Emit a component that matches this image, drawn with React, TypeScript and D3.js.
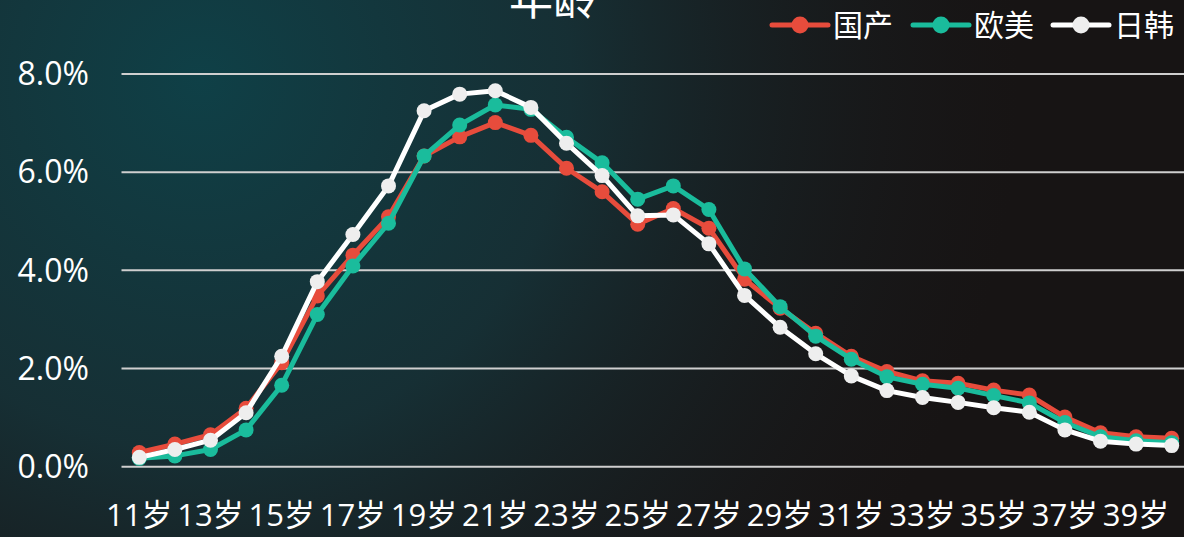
import React, { useEffect, useRef } from 'react';
import * as d3 from 'd3';

// ages 11..40 (every other label shown)
const ages = d3.range(11, 41).map(a => `${a}岁`);

const domestic = [0.29, 0.46, 0.65, 1.19, 2.12, 3.48, 4.31, 5.09, 6.33, 6.72, 7.01, 6.75, 6.08, 5.6, 4.94, 5.26, 4.86, 3.82, 3.23, 2.72, 2.25, 1.94, 1.75, 1.7, 1.56, 1.46, 1.01, 0.69, 0.61, 0.58];
const western = [0.17, 0.22, 0.35, 0.75, 1.66, 3.1, 4.09, 4.96, 6.33, 6.96, 7.37, 7.28, 6.71, 6.19, 5.45, 5.72, 5.24, 4.03, 3.26, 2.66, 2.19, 1.83, 1.68, 1.6, 1.45, 1.3, 0.9, 0.61, 0.53, 0.49];
const japanKorea = [0.19, 0.35, 0.54, 1.1, 2.25, 3.77, 4.73, 5.72, 7.25, 7.59, 7.66, 7.32, 6.59, 5.93, 5.11, 5.13, 4.54, 3.49, 2.84, 2.3, 1.85, 1.55, 1.41, 1.31, 1.2, 1.11, 0.75, 0.52, 0.46, 0.43];

const yTicks = [0, 2, 4, 6, 8];

const series = [
  { name: '国产', values: domestic, line: '#e74c3c', dot: '#e74c3c' },
  { name: '欧美', values: western, line: '#1abc9c', dot: '#1abc9c' },
  { name: '日韩', values: japanKorea, line: '#ffffff', dot: '#eeeeee' },
];

const W = 1184;
const H = 537;
const FONT = '"Open Sans", "Noto Sans CJK SC", sans-serif';

const App = () => {
  const ref = useRef<SVGSVGElement>(null);

  useEffect(() => {
    const svg = d3.select(ref.current);
    svg.selectAll('*').remove();

    const defs = svg.append('defs');
    const rg = defs.append('radialGradient')
      .attr('id', 'bgTeal')
      .attr('gradientUnits', 'userSpaceOnUse')
      .attr('cx', 200).attr('cy', 80).attr('r', 820);
    rg.append('stop').attr('offset', '0%').attr('stop-color', '#0f4047').attr('stop-opacity', 1);
    rg.append('stop').attr('offset', '45%').attr('stop-color', '#16343a').attr('stop-opacity', 0.85);
    rg.append('stop').attr('offset', '100%').attr('stop-color', '#1b1d20').attr('stop-opacity', 0);

    svg.append('rect').attr('width', W).attr('height', H).attr('fill', '#171414');
    svg.append('rect').attr('width', W).attr('height', H).attr('fill', 'url(#bgTeal)');

    const x = d3.scaleBand().domain(ages).range([121.5, 121.5 + 30 * 35.6]).padding(0);
    const y = d3.scaleLinear().domain([0, 8]).range([466.7, 74]);
    const cx = (a: string) => (x(a) as number) + x.bandwidth() / 2;

    // grid
    svg.append('g').selectAll('line').data(yTicks).join('line')
      .attr('x1', x.range()[0]).attr('x2', x.range()[1])
      .attr('y1', d => y(d)).attr('y2', d => y(d))
      .attr('stroke', '#cfcfcf').attr('stroke-width', 2);

    // y labels
    svg.append('g').selectAll('text').data(yTicks).join('text')
      .attr('x', 89).attr('y', d => y(d)).attr('dy', '0.35em')
      .attr('text-anchor', 'end')
      .attr('font-family', FONT).attr('font-size', 32).attr('fill', '#ffffff')
      .text(d => d.toFixed(1) + '%');

    // x labels
    svg.append('g').selectAll('text').data(ages.filter((_, i) => i % 2 === 0)).join('text')
      .attr('x', d => cx(d)).attr('y', 526)
      .attr('text-anchor', 'middle')
      .attr('font-family', FONT).attr('font-size', 31).attr('fill', '#ffffff')
      .text(d => d);

    // series
    const line = d3.line<number>().x((_, i) => cx(ages[i])).y(d => y(d));
    series.forEach(s => {
      const g = svg.append('g');
      g.append('path').datum(s.values)
        .attr('d', line).attr('fill', 'none')
        .attr('stroke', s.line).attr('stroke-width', 5)
        .attr('stroke-linejoin', 'round');
      g.selectAll('circle').data(s.values).join('circle')
        .attr('cx', (_, i) => cx(ages[i])).attr('cy', d => y(d))
        .attr('r', 7.5).attr('fill', s.dot);
    });

    // title (cut at top)
    svg.append('text').attr('x', 553).attr('y', 15)
      .attr('text-anchor', 'middle')
      .attr('font-family', FONT).attr('font-size', 44).attr('fill', '#ffffff')
      .text('年龄');

    // legend
    const legendX = [772, 913, 1053];
    series.forEach((s, i) => {
      const g = svg.append('g').attr('transform', `translate(${legendX[i]},25)`);
      g.append('line').attr('x1', 0).attr('x2', 56).attr('y1', 0).attr('y2', 0)
        .attr('stroke', s.line).attr('stroke-width', 5).attr('stroke-linecap', 'round');
      g.append('circle').attr('cx', 28).attr('cy', 0).attr('r', 8.5).attr('fill', s.dot);
      g.append('text').attr('x', 61).attr('y', 0).attr('dy', '0.36em')
        .attr('font-family', FONT).attr('font-size', 30).attr('fill', '#ffffff')
        .text(s.name);
    });
  }, []);

  return (
    <svg ref={ref} width={W} height={H}
      style={{ position: 'fixed', left: 0, top: 0, display: 'block' }} />
  );
};

export default App;
